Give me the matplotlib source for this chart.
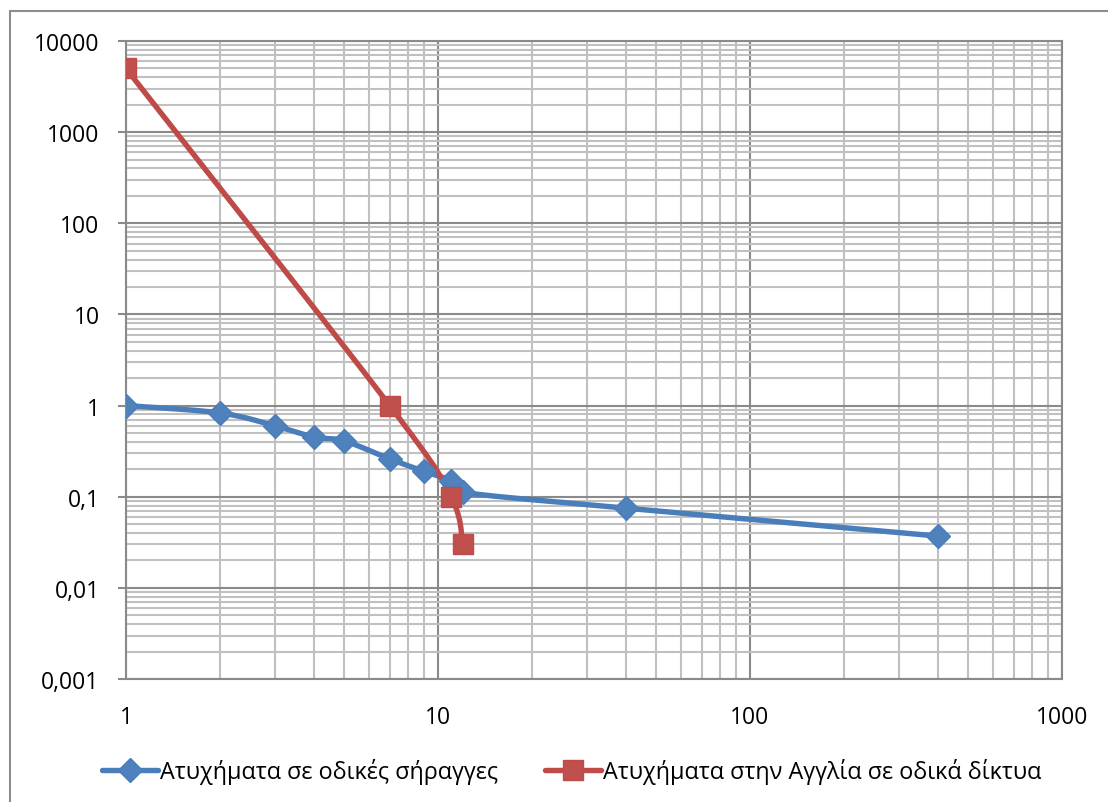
import numpy as np
import matplotlib
matplotlib.use("Agg")
import matplotlib.pyplot as plt
from matplotlib.ticker import LogLocator, FixedLocator, FixedFormatter, NullFormatter
from matplotlib.patches import Rectangle
from matplotlib.lines import Line2D

plt.rcParams['font.family'] = ['Open Sans', 'DejaVu Sans']

# Series data
tunnel_x = [1, 2, 3, 4, 5, 7, 9, 11, 12, 40, 400]
tunnel_y = [1.0, 0.83, 0.6, 0.45, 0.41, 0.26, 0.19, 0.15, 0.112, 0.075, 0.037]
uk_x = [1, 7, 11, 12]
uk_y = [5000, 1.0, 0.1, 0.03]

tunnel_label = "Ατυχήματα σε οδικές σήραγγες"
uk_label = "Ατυχήματα στην Αγγλία σε οδικά δίκτυα"

y_ticks = [0.001, 0.01, 0.1, 1, 10, 100, 1000, 10000]
y_tick_labels = ["0,001", "0,01", "0,1", "1", "10", "100", "1000", "10000"]
x_ticks = [1, 10, 100, 1000]
x_tick_labels = ["1", "10", "100", "1000"]

BLUE_LINE = "#4A7EBB"
BLUE_MARK = "#4F81BD"
RED_LINE = "#BE4B48"
RED_MARK = "#C0504D"


def smooth(xs, ys, n=40):
    """Catmull-Rom style Bezier smoothing in log-log space."""
    lx = np.log10(np.asarray(xs, float))
    ly = np.log10(np.asarray(ys, float))
    P = np.column_stack([lx, ly])
    m = len(P)
    out = [P[0]]
    for i in range(m - 1):
        p0 = P[i - 1] if i > 0 else P[i]
        p1 = P[i]
        p2 = P[i + 1]
        p3 = P[i + 2] if i + 2 < m else P[i + 1]
        c1 = p1 + (p2 - p0) / 6.0
        c2 = p2 - (p3 - p1) / 6.0
        t = np.linspace(0, 1, n)[1:, None]
        seg = ((1 - t) ** 3) * p1 + 3 * ((1 - t) ** 2) * t * c1 + 3 * (1 - t) * t ** 2 * c2 + t ** 3 * p2
        out.extend(seg)
    out = np.array(out)
    return 10 ** out[:, 0], 10 ** out[:, 1]


fig = plt.figure(figsize=(11.08, 8.03), dpi=100)
W, H = 1108, 803

# Chart area border
fig.patches.append(Rectangle((10 / W, -0.1), 1.2, 1 - 12 / H + 0.1, transform=fig.transFigure,
                             fill=False, edgecolor="#8c8c8c", linewidth=1.5))

left, right, top, bottom = 126, 1062, 42, 680
ax = fig.add_axes([left / W, 1 - bottom / H, (right - left) / W, (bottom - top) / H])

ax.set_xscale('log')
ax.set_yscale('log')
ax.set_xlim(1, 1000)
ax.set_ylim(0.001, 10000)

ax.xaxis.set_major_locator(FixedLocator(x_ticks))
ax.xaxis.set_major_formatter(FixedFormatter(x_tick_labels))
ax.yaxis.set_major_locator(FixedLocator(y_ticks))
ax.yaxis.set_major_formatter(FixedFormatter(y_tick_labels))
ax.xaxis.set_minor_locator(LogLocator(base=10, subs=np.arange(2, 10), numticks=20))
ax.yaxis.set_minor_locator(LogLocator(base=10, subs=np.arange(2, 10), numticks=20))
ax.xaxis.set_minor_formatter(NullFormatter())
ax.yaxis.set_minor_formatter(NullFormatter())

ax.grid(which='minor', color="#c0c0c0", linewidth=1.5, zorder=0)
ax.grid(which='major', color="#8a8a8a", linewidth=1.5, zorder=0)
ax.set_axisbelow(True)

for s in ax.spines.values():
    s.set_color("#8a8a8a")
    s.set_linewidth(1.5)

ax.tick_params(axis='y', which='major', length=6, width=1.5, color="#8a8a8a",
               labelsize=16.5, pad=13, direction='out')
ax.tick_params(axis='x', which='major', length=0, labelsize=16.5, pad=19)
ax.tick_params(which='minor', length=0)

LW = 3.9
DIA_MS = 12.5
SQ_MS = 15

tx, ty = smooth(tunnel_x, tunnel_y)
ax.plot(tx, ty, color=BLUE_LINE, linewidth=LW, solid_capstyle='round', zorder=3)
ax.plot(tunnel_x, tunnel_y, linestyle='none', marker='D', markersize=DIA_MS,
        markerfacecolor=BLUE_MARK, markeredgecolor=BLUE_LINE, markeredgewidth=1, zorder=4)

ux, uy = smooth(uk_x, uk_y)
ax.plot(ux, uy, color=RED_LINE, linewidth=LW, solid_capstyle='round', zorder=3)
ax.plot(uk_x, uk_y, linestyle='none', marker='s', markersize=SQ_MS,
        markerfacecolor=RED_MARK, markeredgecolor=RED_LINE, markeredgewidth=1, zorder=4)

handles = [
    Line2D([], [], color=BLUE_LINE, linewidth=LW, marker='D', markersize=DIA_MS,
           markerfacecolor=BLUE_MARK, markeredgecolor=BLUE_LINE, solid_capstyle='round'),
    Line2D([], [], color=RED_LINE, linewidth=LW, marker='s', markersize=SQ_MS,
           markerfacecolor=RED_MARK, markeredgecolor=RED_LINE, solid_capstyle='round'),
]
fig.legend(handles, [tunnel_label, uk_label], loc='center', bbox_to_anchor=(0.516, 1 - 772 / H),
           ncol=2, frameon=False, fontsize=16.8, handlelength=2.4, handletextpad=0.1,
           columnspacing=2.0)

fig.savefig("out.png", dpi=100)
